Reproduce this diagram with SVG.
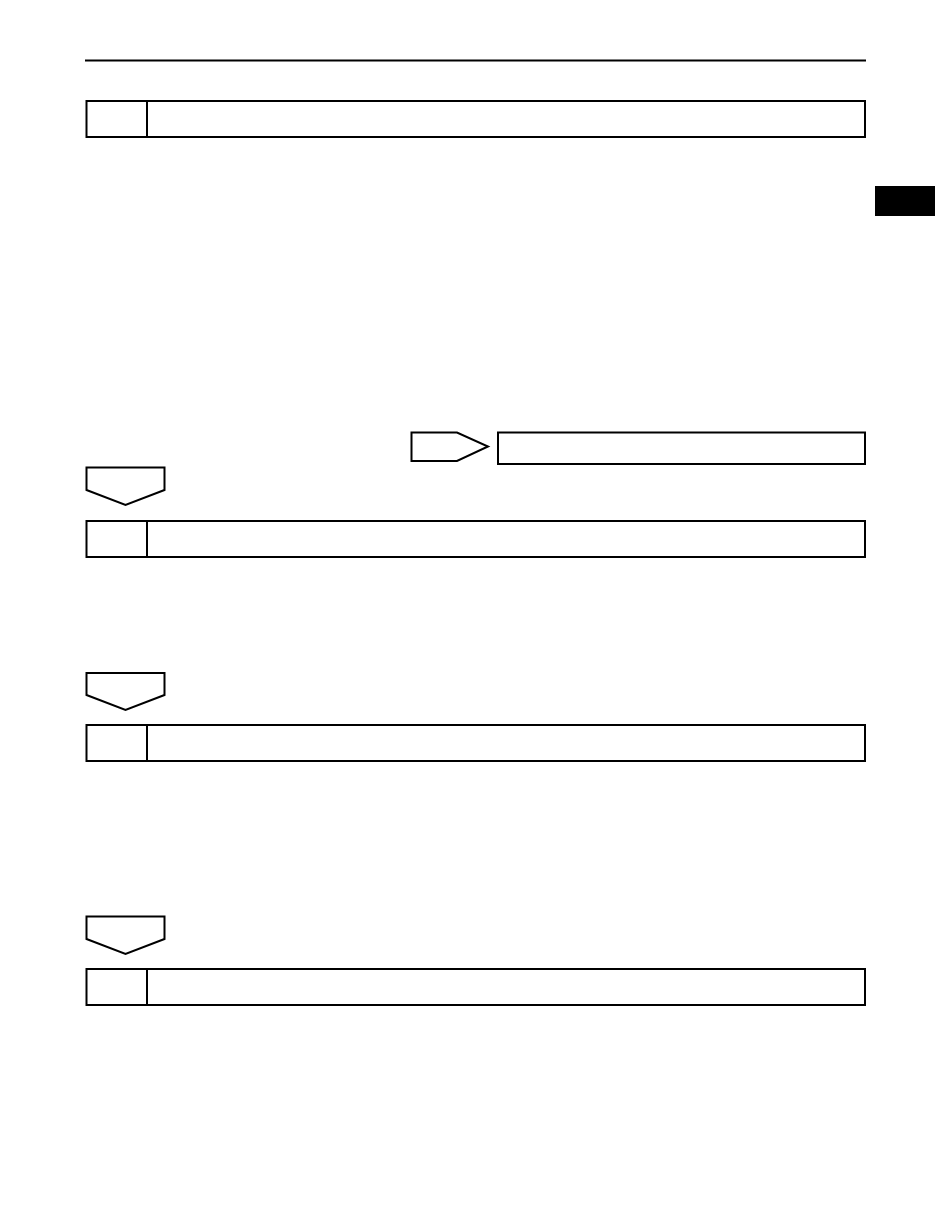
<svg xmlns="http://www.w3.org/2000/svg" width="935" height="1210" viewBox="0 0 935 1210">
<style>
.s{fill:#fff;stroke:#000;stroke-width:2}
.d{stroke:#000;stroke-width:2}
</style>
<rect width="935" height="1210" fill="#fff"/>
<line class="d" x1="85" y1="60.5" x2="866" y2="60.5"/>
<rect x="875" y="186" width="60" height="30" fill="#000"/>
<g id="step1"><rect class="s" x="86.5" y="101" width="778.5" height="36"/><line class="d" x1="147" y1="101" x2="147" y2="137"/></g>
<g id="step2"><rect class="s" x="86.5" y="521" width="778.5" height="36"/><line class="d" x1="147" y1="521" x2="147" y2="557"/></g>
<g id="step3"><rect class="s" x="86.5" y="725" width="778.5" height="36"/><line class="d" x1="147" y1="725" x2="147" y2="761"/></g>
<g id="step4"><rect class="s" x="86.5" y="969" width="778.5" height="36"/><line class="d" x1="147" y1="969" x2="147" y2="1005"/></g>
<g id="result"><rect class="s" x="498" y="432.5" width="367" height="31.5"/></g>
<g id="connectors">
<polygon class="s" points="411.5,432.5 457,432.5 488,446.5 457,461 411.5,461"/>
<polygon class="s" points="86.5,467.5 164.5,467.5 164.5,490 125.5,505 86.5,490"/>
<polygon class="s" points="86.5,673 164.5,673 164.5,695 125.5,710 86.5,695"/>
<polygon class="s" points="86.5,916.5 164.5,916.5 164.5,939 125.5,954 86.5,939"/>
</g>
</svg>
